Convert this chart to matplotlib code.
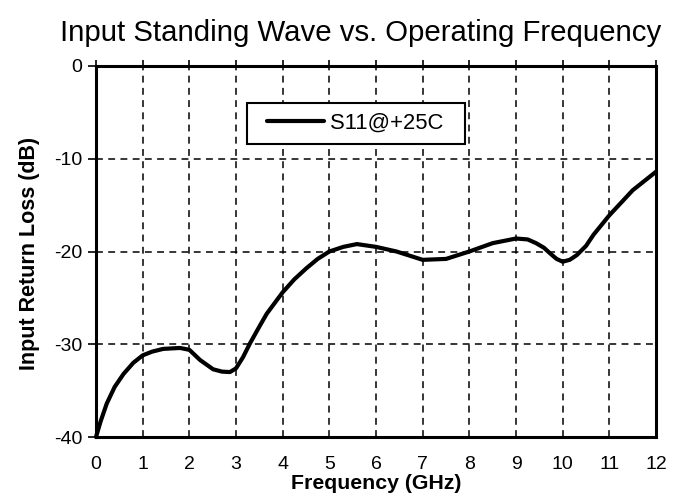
import matplotlib
matplotlib.use("Agg")
import matplotlib.pyplot as plt
from matplotlib.legend_handler import HandlerLine2D
from matplotlib.lines import Line2D

plt.rcParams['font.family'] = ['Liberation Sans', 'DejaVu Sans']

freq_ghz = [0.0, 0.1, 0.23, 0.4, 0.59, 0.8, 1.0, 1.2, 1.44, 1.8, 2.0, 2.23, 2.51, 2.7, 2.87,
            3.0, 3.15, 3.3, 3.5, 3.66, 4.0, 4.25, 4.51, 4.75, 5.0, 5.3, 5.59, 6.0, 6.44,
            7.0, 7.5, 8.0, 8.5, 9.0, 9.25, 9.43, 9.6, 9.73, 9.87, 10.0, 10.15, 10.3, 10.5,
            10.66, 11.0, 11.5, 12.0]
s11_db = [-40.0, -38.3, -36.4, -34.6, -33.2, -32.0, -31.2, -30.8, -30.5, -30.4, -30.6, -31.7,
          -32.7, -32.95, -33.0, -32.6, -31.4, -29.9, -28.1, -26.7, -24.4, -23.0, -21.8, -20.8,
          -20.0, -19.5, -19.2, -19.5, -20.0, -20.9, -20.8, -20.0, -19.1, -18.6, -18.7, -19.1,
          -19.6, -20.2, -20.8, -21.1, -20.9, -20.4, -19.4, -18.2, -16.1, -13.4, -11.4]

x_ticks = list(range(0, 13))
y_ticks = [0, -10, -20, -30, -40]

title = "Input Standing Wave vs. Operating Frequency"
x_label = "Frequency (GHz)"
y_label = "Input Return Loss (dB)"
series_name = "S11@+25C"

fig = plt.figure(figsize=(6.87, 4.93), dpi=100)
ax = fig.add_axes([96/687, 1-437/493, 560/687, 371/493])

line, = ax.plot(freq_ghz, s11_db, color='black', lw=3.0, label=series_name,
                solid_joinstyle='round', solid_capstyle='round', zorder=3, clip_on=False)

ax.set_xlim(0, 12)
ax.set_ylim(-40, 0)
ax.set_xticks(x_ticks)
ax.set_yticks(y_ticks)
ax.set_xticklabels([str(v) for v in x_ticks], fontsize=14)
ax.set_yticklabels([str(v) for v in y_ticks], fontsize=14)

ax.grid(True, color='black', linestyle=(0, (4.5, 3.5)), lw=1.1)
for s in ax.spines.values():
    s.set_linewidth(2.2)
    s.set_zorder(4)

ax.tick_params(axis='x', bottom=False, top=True, direction='out', length=4, width=1.2,
               labelbottom=True, pad=10)
ax.tick_params(axis='y', left=True, direction='out', length=6, width=1.2, pad=4)

ax.set_xlabel(x_label, fontsize=15.3, fontweight='bold')
ax.xaxis.set_label_coords((376-96)/560, -(474-437)/371)
ax.set_ylabel(y_label, fontsize=15.5, fontweight='bold')
ax.yaxis.set_label_coords(-(96-40)/560, (437-253)/371)

fig.text(361/687, 1-33/493, title, fontsize=21.2, ha='center', va='center')

leg = ax.legend([line], [series_name + "\u2002"], loc='upper left',
                bbox_to_anchor=((247-96)/560, (437-103)/371),
                borderaxespad=0, fontsize=15.8, frameon=True, fancybox=False,
                handlelength=3.05, handletextpad=0.3, borderpad=0.45, framealpha=1,
                handler_map={Line2D: HandlerLine2D(xpad=0.45)})
leg.get_frame().set_edgecolor('black')
leg.get_frame().set_linewidth(1.5)

fig.savefig("out.png", dpi=100)
